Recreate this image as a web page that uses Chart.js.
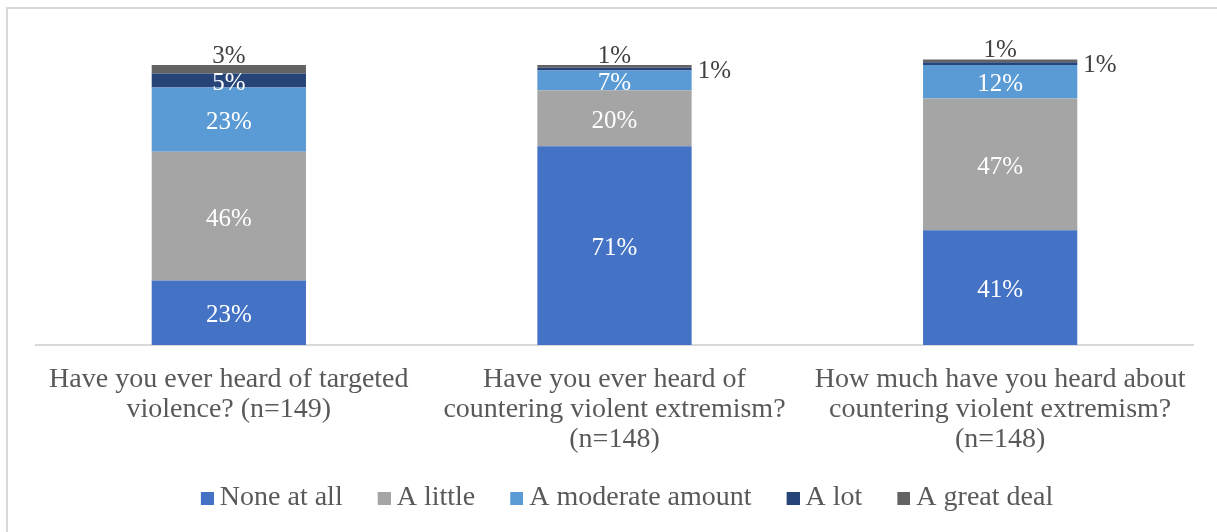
<!DOCTYPE html>
<html>
<head>
<meta charset="utf-8">
<script src="https://cdn.jsdelivr.net/npm/chart.js@4"></script>
<style>
  html, body { margin: 0; padding: 0; background: #ffffff; overflow: hidden; }
  #wrap { width: 1217px; height: 532px; position: relative; }
</style>
</head>
<body>
<div id="wrap"><canvas id="c" width="1217" height="532"></canvas></div>
<script>
const categories = [
  ["Have you ever heard of targeted", "violence? (n=149)"],
  ["Have you ever heard of", "countering violent extremism?", "(n=148)"],
  ["How much have you heard about", "countering violent extremism?", "(n=148)"]
];
const seriesNames = ["None at all", "A little", "A moderate amount", "A lot", "A great deal"];
const noneAtAll = [23, 71, 41];
const aLittle = [46, 20, 47];
const aModerate = [23, 7, 12];
const aLot = [5, 1, 1];
const aGreatDeal = [3, 1, 1];
const colors = ["#4472C4", "#A5A5A5", "#5B9BD5", "#264478", "#636363"];

const FONT = "'Liberation Serif', 'Times New Roman', serif";

const seriesValues = [noneAtAll, aLittle, aModerate, aLot, aGreatDeal];

// legend marker: a small square placed at the right of a wider transparent image
function makeMarker(color) {
  const c = document.createElement('canvas');
  c.width = 46; c.height = 13;
  const g = c.getContext('2d');
  g.fillStyle = color;
  g.fillRect(33, 0, 13, 13);
  return c;
}
const markers = colors.map(makeMarker);

const borderPlugin = {
  id: 'frame',
  beforeDraw(chart) {
    const ctx = chart.ctx;
    ctx.save();
    ctx.fillStyle = '#ffffff';
    ctx.fillRect(0, 0, chart.width, chart.height);
    ctx.strokeStyle = '#D9D9D9';
    ctx.lineWidth = 2;
    ctx.strokeRect(7, 8, 1300, 600);
    ctx.restore();
  }
};

const labelPlugin = {
  id: 'segLabels',
  afterDatasetsDraw(chart) {
    const ctx = chart.ctx;
    ctx.save();
    ctx.font = "25px " + FONT;
    const last = chart.data.datasets.length - 1;
    chart.data.datasets.forEach((ds, di) => {
      const meta = chart.getDatasetMeta(di);
      meta.data.forEach((el, i) => {
        const v = ds.data[i];
        const txt = v + '%';
        const top = Math.min(el.y, el.base);
        const bot = Math.max(el.y, el.base);
        const h = bot - top;
        const cy = (top + bot) / 2;
        ctx.textBaseline = 'middle';
        if (di === last && h < 12) {
          ctx.fillStyle = '#404040';
          ctx.textAlign = 'center';
          ctx.fillText(txt, el.x, top - 9);
        } else if (h < 10) {
          ctx.fillStyle = '#404040';
          ctx.textAlign = 'left';
          ctx.fillText(txt, el.x + el.width / 2 + 6, cy + 2);
        } else {
          ctx.fillStyle = '#ffffff';
          ctx.textAlign = 'center';
          ctx.fillText(txt, el.x, cy + 3);
        }
      });
    });
    ctx.restore();
  }
};

new Chart(document.getElementById('c'), {
  type: 'bar',
  data: {
    labels: categories,
    datasets: seriesNames.map((name, i) => ({
      label: name,
      data: seriesValues[i],
      backgroundColor: colors[i],
      borderWidth: 0,
      barPercentage: 0.4,
      categoryPercentage: 1.0,
      pointStyle: markers[i]
    }))
  },
  options: {
    responsive: false,
    animation: false,
    devicePixelRatio: 1,
    layout: { padding: { left: 36, right: 24, top: 37, bottom: 10 } },
    scales: {
      x: {
        stacked: true,
        grid: { display: false, drawTicks: false },
        border: { display: true, color: '#D9D9D9', width: 2 },
        ticks: {
          color: '#595959',
          font: { family: FONT, size: 28, lineHeight: '30px' },
          padding: 20,
          maxRotation: 0,
          autoSkip: false
        },
        afterFit(scale) { scale.height = 129; }
      },
      y: {
        stacked: true,
        display: false,
        min: 0,
        max: 110
      }
    },
    plugins: {
      legend: {
        position: 'bottom',
        labels: {
          color: '#595959',
          font: { family: FONT, size: 28 },
          usePointStyle: true,
          pointStyleWidth: 30,
          boxHeight: 13,
          padding: 10
        }
      },
      tooltip: { enabled: false }
    }
  },
  plugins: [borderPlugin, labelPlugin]
});
</script>
</body>
</html>
